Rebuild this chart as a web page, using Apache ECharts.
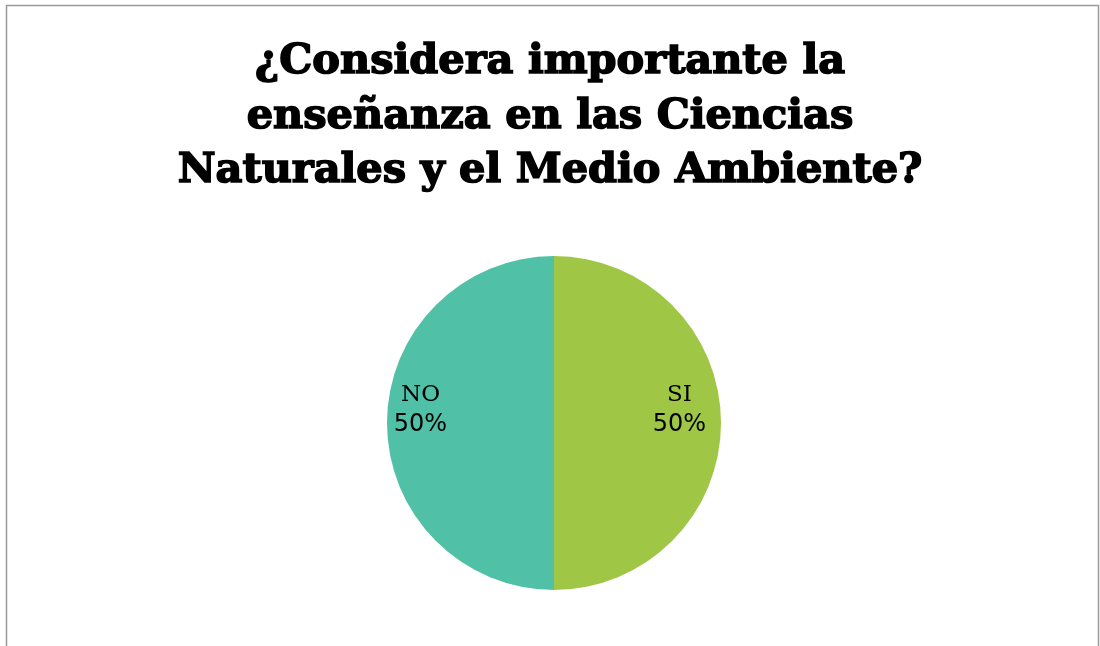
<!DOCTYPE html>
<html>
<head>
<meta charset="utf-8">
<script src="https://cdn.jsdelivr.net/npm/echarts@6/dist/echarts.min.js"></script>
<style>
html,body{margin:0;padding:0;background:#fff;}
#chart{width:1100px;height:646px;}
</style>
</head>
<body>
<div id="chart"></div>
<script>
const titleText = '¿Considera importante la\nenseñanza en las Ciencias\nNaturales y el Medio Ambiente?';
const categories = ['SI', 'NO'];
const values = [50, 50];
const colors = ['#A0C646', '#50C0A6'];

const chart = echarts.init(document.getElementById('chart'), null, {renderer: 'canvas'});
const cx = 554, cy = 423;
chart.setOption({
  backgroundColor: '#ffffff',
  animation: false,
  title: {
    text: titleText,
    left: 'center',
    top: 30,
    textStyle: {
      fontFamily: 'DejaVu Serif',
      fontWeight: 'bold',
      fontSize: 41.5,
      lineHeight: 54.5,
      color: '#000',
      textBorderColor: '#000',
      textBorderWidth: 1.6
    }
  },
  graphic: [{
    type: 'rect',
    shape: {x: 6.5, y: 5.5, width: 1092, height: 700},
    style: {fill: 'none', stroke: '#9a9a9a', lineWidth: 1.5},
    silent: true
  }],
  series: [{
    type: 'pie',
    center: [cx, cy],
    radius: 167,
    startAngle: 90,
    clockwise: true,
    data: categories.map((c, i) => ({name: c, value: values[i], itemStyle: {color: colors[i]}})),
    label: {
      show: true,
      position: 'inside',
      formatter: '{n|{b}}\n{v|{d}%}',
      rich: {
        n: {fontFamily: 'DejaVu Serif', fontSize: 23, color: '#000', lineHeight: 30, align: 'center'},
        v: {fontFamily: 'DejaVu Sans', fontSize: 24, color: '#000', lineHeight: 30, align: 'center'}
      }
    },
    labelLayout: function (params) {
      const mid = params.rect.x + params.rect.width / 2;
      return {dx: mid < cx ? -47 : 39, dy: -13};
    },
    labelLine: {show: false},
    emphasis: {disabled: true}
  }]
});
</script>
</body>
</html>
